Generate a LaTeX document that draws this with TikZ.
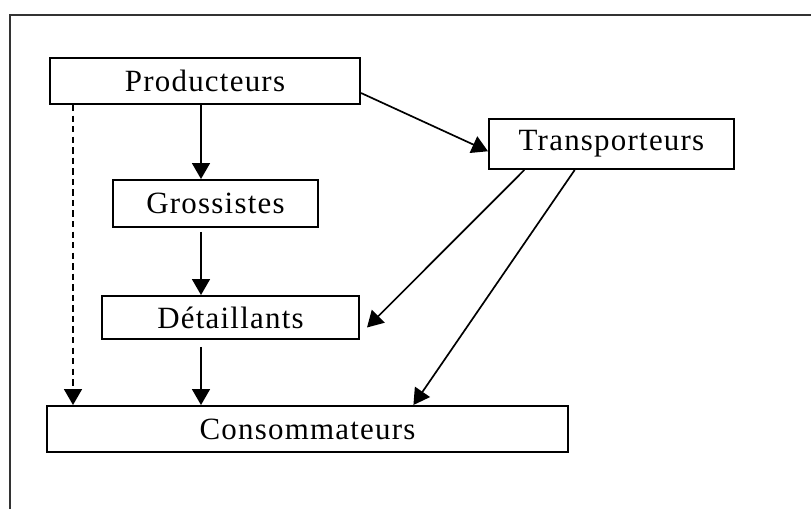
\documentclass[tikz,border=0pt]{standalone}
\usepackage{fontspec}
\setmainfont{Liberation Serif}[LetterSpace=4]
\usetikzlibrary{arrows.meta, calc, positioning}
\tikzset{
  stage/.style={draw, rectangle, line width=1.4pt, inner sep=0pt, font=\fontsize{22}{26}\selectfont},
  flow/.style={-{Triangle[width=4.5mm,length=4mm]}, line width=1.2pt},
  dflow/.style={flow, dash pattern=on 4.5pt off 3pt},
  frame/.style={line width=1.4pt, black!80}
}

\begin{document}
\begin{tikzpicture}[x=0.025cm, y=-0.025cm]
  \useasboundingbox (0,0) rectangle (811,509);
  \draw[frame] (10,509) |- (811,15);

  \node[stage, minimum width=7.75cm,  minimum height=1.15cm]  (prod)  at (205,81)    {Producteurs};
  \node[stage, minimum width=6.125cm, minimum height=1.25cm]  (trans) at (611.5,144) {Transporteurs};
  \node[stage, minimum width=5.125cm, minimum height=1.175cm] (gros)  at (215.5,203.5) {Grossistes};
  \node[stage, minimum width=6.425cm, minimum height=1.075cm] (det)   at (230.5,317.5) {Détaillants};
  \node[stage, minimum width=13.025cm, minimum height=1.15cm] (cons)  at (307.5,429) {Consommateurs};

  % columns of the vertical arrows
  \coordinate (c1) at (73,0);
  \coordinate (c2) at (201,0);

  \draw[dflow] (prod.south -| c1) -- (cons.north -| c1);
  \draw[flow] (prod.south -| c2) -- (gros.north -| c2);
  \draw[flow, shorten <=1mm] (gros.south -| c2) -- (det.north -| c2);
  \draw[flow, shorten <=1.7mm] (det.south -| c2) -- (cons.north -| c2);

  \draw[flow] ($(prod.south east)!0.25!(prod.north east)$) -- ($(trans.south west)!0.36!(trans.north west)$);
  \draw[flow] ($(trans.south west)!0.147!(trans.south east)$) -- ($(det.east)+(7,10)$);
  \draw[flow] ($(trans.south west)!0.351!(trans.south east)$) -- ($(cons.north west)!0.7025!(cons.north east)$);
\end{tikzpicture}
\end{document}
